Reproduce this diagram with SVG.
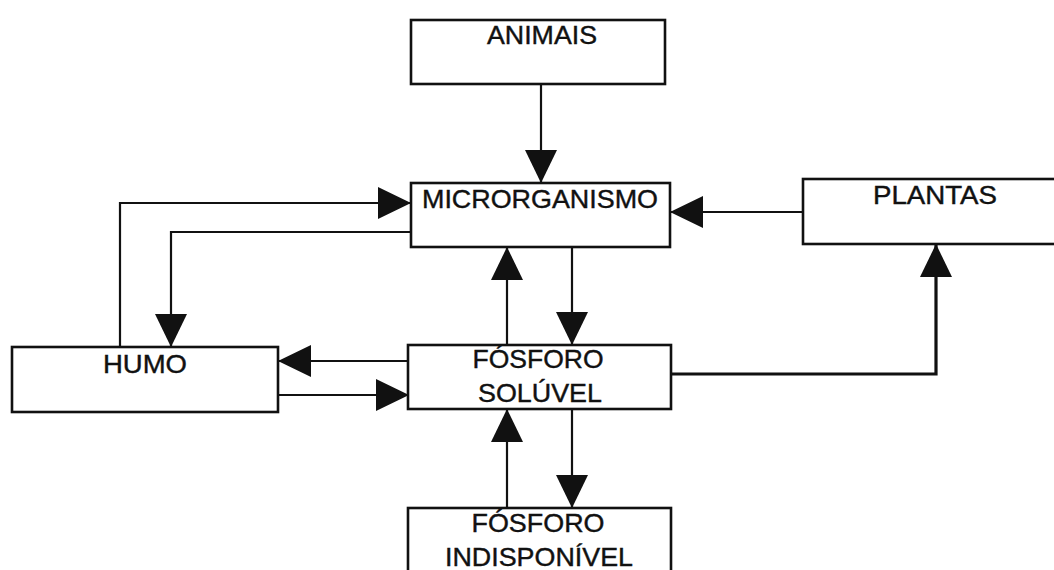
<svg xmlns="http://www.w3.org/2000/svg" width="1054" height="570" viewBox="0 0 1054 570">
  <style>
    .box { fill: #fff; stroke: #111; stroke-width: 2.6; }
    .lbl { font-family: "Liberation Sans", Arial, sans-serif; font-size: 25.5px; fill: #111; stroke: #111; stroke-width: 0.4; text-anchor: middle; }
    .wire { fill: none; stroke: #111; stroke-width: 2.2; }
    .thick { stroke-width: 3.2; }
  </style>
  <defs>
    <marker id="head" markerUnits="userSpaceOnUse" markerWidth="34" markerHeight="32" refX="33" refY="16" orient="auto">
      <path d="M0,0 L33,16 L0,32 Z" fill="#111"/>
    </marker>
  </defs>
  <rect width="1054" height="570" fill="#fff"/>

  <g id="connectors">
    <!-- animais -> microrganismo -->
    <path class="wire" d="M541,85 V183" marker-end="url(#head)"/>
    <!-- plantas -> microrganismo -->
    <path class="wire" d="M803,212 H670" marker-end="url(#head)"/>
    <!-- humo -> microrganismo -->
    <path class="wire" d="M120,347 V203 H411" marker-end="url(#head)"/>
    <!-- microrganismo -> humo -->
    <path class="wire" d="M411,232 H171 V347" marker-end="url(#head)"/>
    <!-- fosforo soluvel -> microrganismo -->
    <path class="wire" d="M507,345 V247" marker-end="url(#head)"/>
    <!-- microrganismo -> fosforo soluvel -->
    <path class="wire" d="M572,247 V345" marker-end="url(#head)"/>
    <!-- fosforo soluvel -> humo -->
    <path class="wire" d="M409,361 H278" marker-end="url(#head)"/>
    <!-- humo -> fosforo soluvel -->
    <path class="wire" d="M278,395 H409" marker-end="url(#head)"/>
    <!-- fosforo soluvel -> plantas -->
    <path class="wire thick" d="M671,374 H936 V244" marker-end="url(#head)"/>
    <!-- indisponivel -> soluvel -->
    <path class="wire" d="M507,508 V409" marker-end="url(#head)"/>
    <!-- soluvel -> indisponivel -->
    <path class="wire" d="M572,409 V508" marker-end="url(#head)"/>
  </g>

  <g id="animais">
    <rect class="box" x="411" y="20" width="254" height="64"/>
    <text class="lbl" x="542" y="44" textLength="110" lengthAdjust="spacingAndGlyphs">ANIMAIS</text>
  </g>

  <g id="microrganismo">
    <rect class="box" x="411" y="183" width="259" height="64"/>
    <text class="lbl" x="540" y="208" textLength="236" lengthAdjust="spacingAndGlyphs">MICRORGANISMO</text>
  </g>

  <g id="plantas">
    <rect class="box" x="803" y="179" width="262" height="65"/>
    <text class="lbl" x="935" y="204" textLength="124" lengthAdjust="spacingAndGlyphs">PLANTAS</text>
  </g>

  <g id="humo">
    <rect class="box" x="12" y="347" width="266" height="65"/>
    <text class="lbl" x="145" y="373" textLength="84" lengthAdjust="spacingAndGlyphs">HUMO</text>
  </g>

  <g id="fosforo-soluvel">
    <rect class="box" x="408" y="345" width="263" height="64"/>
    <text class="lbl" x="538" y="368" textLength="131" lengthAdjust="spacingAndGlyphs">FÓSFORO</text>
    <text class="lbl" x="540" y="402" textLength="124" lengthAdjust="spacingAndGlyphs">SOLÚVEL</text>
  </g>

  <g id="fosforo-indisponivel">
    <rect class="box" x="408" y="508" width="263" height="68"/>
    <text class="lbl" x="538" y="532" textLength="133" lengthAdjust="spacingAndGlyphs">FÓSFORO</text>
    <text class="lbl" x="539" y="566" textLength="188" lengthAdjust="spacingAndGlyphs">INDISPONÍVEL</text>
  </g>
</svg>
